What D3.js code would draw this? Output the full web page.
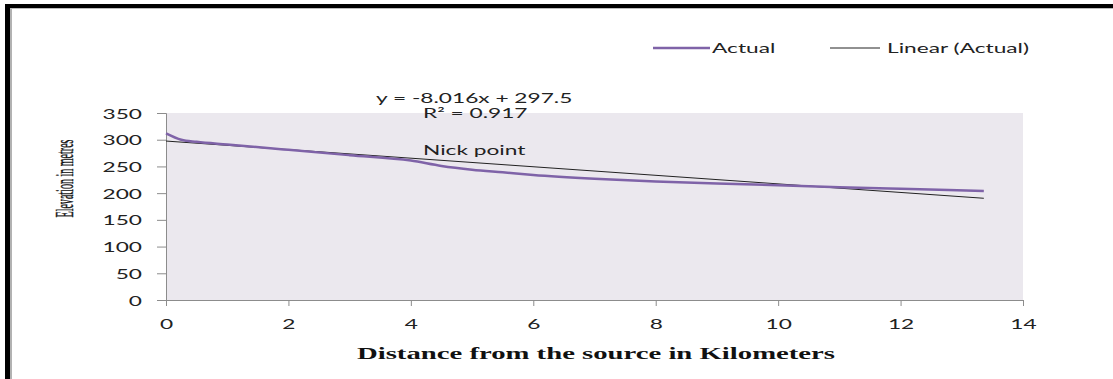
<!DOCTYPE html>
<html>
<head>
<meta charset="utf-8">
<script src="https://cdn.jsdelivr.net/npm/d3@7"></script>
<style>
  body { margin: 0; background: #fff; }
  text { font-family: Lato, "Liberation Sans", sans-serif; fill: #222; }
  text.serif { font-family: "Liberation Serif", "Times New Roman", serif; fill: #111; }
</style>
</head>
<body>
<div id="chart"></div>
<script>
// data
const distanceKm = [0, 0.25, 0.5, 1, 2, 3, 4, 4.5, 5, 5.5, 6, 7, 8, 9, 10, 11, 12, 13.36];
const elevationM = [312, 300, 296, 291, 281, 271, 261, 251, 244, 239, 234, 227, 222, 218, 215, 211, 208, 204];
const trendSlope = -8.016;
const trendIntercept = 297.5;
const xTicks = [0, 2, 4, 6, 8, 10, 12, 14];
const yTicks = [0, 50, 100, 150, 200, 250, 300, 350];
const seriesNames = ["Actual", "Linear (Actual)"];

const W = 1113, H = 379;
const margin = {top: 113, right: 90, bottom: 79, left: 166};
const width = W - margin.left - margin.right;
const height = H - margin.top - margin.bottom;
const STRETCH = 1.62;

const svg = d3.select("#chart").append("svg")
    .attr("width", W)
    .attr("height", H);

// widen text like the squashed source image
function stretch(sel, k) {
    sel.each(function() {
        const l = this.getComputedTextLength();
        d3.select(this).attr("textLength", l * k).attr("lengthAdjust", "spacingAndGlyphs");
    });
}

// outer frame
svg.append("rect").attr("x", 5).attr("y", 4).attr("width", W).attr("height", 4).attr("fill", "#000");
svg.append("rect").attr("x", 5).attr("y", 4).attr("width", 5).attr("height", H).attr("fill", "#000");
svg.append("line").attr("x1", 11).attr("x2", 11).attr("y1", 8).attr("y2", H)
    .attr("stroke", "#999").attr("stroke-width", 1.5);
svg.append("line").attr("x1", 10).attr("x2", W).attr("y1", 8.5).attr("y2", 8.5)
    .attr("stroke", "#bbb").attr("stroke-width", 1);

const g = svg.append("g").attr("transform", `translate(${margin.left},${margin.top})`);

const x = d3.scaleLinear().domain([0, 14]).range([0, width]);
const y = d3.scaleLinear().domain([0, 350]).range([height, 0]);

g.append("rect").attr("width", width).attr("height", height).attr("fill", "#ebe8ee");

// axes
const xAxis = g.append("g").attr("transform", `translate(0,${height})`)
    .call(d3.axisBottom(x).tickValues(xTicks).tickSize(6).tickPadding(13).tickFormat(d3.format("d")));
const yAxis = g.append("g")
    .call(d3.axisLeft(y).tickValues(yTicks).tickSize(9).tickPadding(15).tickFormat(d3.format("d")));
[xAxis, yAxis].forEach(a => {
    a.select(".domain").attr("stroke", "#8c8c8c");
    a.selectAll(".tick line").attr("stroke", "#8c8c8c");
    a.selectAll("text").attr("font-family", "Lato, sans-serif").attr("font-size", 14).attr("fill", "#222");
});
yAxis.selectAll("text").attr("dy", "0.36em");
stretch(xAxis.selectAll("text"), STRETCH);
stretch(yAxis.selectAll("text"), STRETCH);

// trend line
const trend = [0, d3.max(distanceKm)].map(d => [d, trendSlope * d + trendIntercept]);
g.append("path")
    .datum(trend)
    .attr("d", d3.line().x(d => x(d[0])).y(d => y(d[1])))
    .attr("fill", "none").attr("stroke", "#222").attr("stroke-width", 1);

// actual profile
const pts = distanceKm.map((d, i) => [d, elevationM[i]]);
g.append("path")
    .datum(pts)
    .attr("d", d3.line().x(d => x(d[0])).y(d => y(d[1])).curve(d3.curveMonotoneX))
    .attr("fill", "none").attr("stroke", "#7f63a8").attr("stroke-width", 2.5);

// annotations
const eq = svg.append("text").attr("x", 376).attr("y", 103).attr("font-size", 14)
    .text("y = -8.016x + 297.5");
const r2 = svg.append("text").attr("x", 423).attr("y", 118).attr("font-size", 14)
    .text("R² = 0.917");
const nick = svg.append("text").attr("x", 423).attr("y", 155).attr("font-size", 14)
    .text("Nick point");
stretch(eq, STRETCH); stretch(r2, STRETCH); stretch(nick, STRETCH);

// legend
const legend = svg.append("g");
legend.append("line").attr("x1", 653).attr("x2", 710).attr("y1", 48).attr("y2", 48)
    .attr("stroke", "#7f63a8").attr("stroke-width", 2.5);
const l1 = legend.append("text").attr("x", 712).attr("y", 53).attr("font-size", 14).text(seriesNames[0]);
legend.append("line").attr("x1", 830).attr("x2", 880).attr("y1", 48).attr("y2", 48)
    .attr("stroke", "#222").attr("stroke-width", 1);
const l2 = legend.append("text").attr("x", 887).attr("y", 53).attr("font-size", 14).text(seriesNames[1]);
stretch(l1, STRETCH); stretch(l2, STRETCH);

// axis titles
svg.append("text")
    .attr("class", "serif")
    .attr("x", 596).attr("y", 359)
    .attr("text-anchor", "middle")
    .attr("font-weight", "bold").attr("font-size", 17)
    .attr("textLength", 478).attr("lengthAdjust", "spacingAndGlyphs")
    .text("Distance from the source in Kilometers");

svg.append("text")
    .attr("class", "serif")
    .attr("transform", "translate(73,178.5) rotate(-90)")
    .attr("text-anchor", "middle")
    .attr("font-size", 26)
    .attr("stroke", "#111").attr("stroke-width", 0.4)
    .attr("textLength", 78).attr("lengthAdjust", "spacingAndGlyphs")
    .text("Elevation in metres");
</script>
</body>
</html>
